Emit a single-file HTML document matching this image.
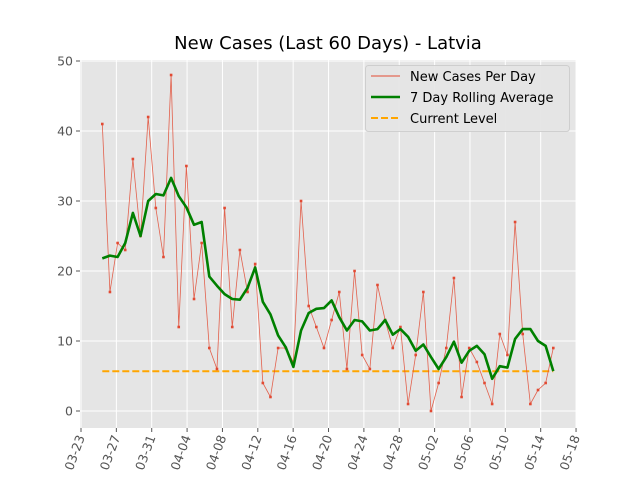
<!DOCTYPE html>
<html><head><meta charset="utf-8"><style>
body{margin:0;background:#fff;}
svg{display:block;font-family:"DejaVu Sans","Liberation Sans",sans-serif;}
</style></head><body>
<svg id="chart" width="640" height="480"></svg>
<script>
const dayValues=[41,17,24,23,36,25,42,29,22,48,12,35,16,24,9,6,29,12,23,17,21,4,2,9,9,7,30,15,12,9,13,17,6,20,8,6,18,13,9,12,1,8,17,0,4,9,19,2,9,7,4,1,11,8,27,11,1,3,4,9];
const rollingAvg=[21.8,22.2,22.0,24.0,28.3,25.0,30.0,31.0,30.8,33.3,30.7,29.1,26.6,27.0,19.2,17.9,16.7,16.0,15.9,17.6,20.5,15.6,13.8,10.8,9.1,6.3,11.5,14.0,14.6,14.7,15.8,13.4,11.5,13.0,12.8,11.5,11.7,13.0,10.9,11.7,10.6,8.6,9.5,7.7,6.0,7.7,9.9,6.9,8.6,9.3,8.1,4.6,6.4,6.2,10.3,11.7,11.7,10.0,9.3,5.7];
const currentLevel=[5.67];
const yTicks=[0,10,20,30,40,50];
const xTickLabels=["03-23","03-27","03-31","04-04","04-08","04-12","04-16","04-20","04-24","04-28","05-02","05-06","05-10","05-14","05-18"];
const NS="http://www.w3.org/2000/svg";
const svg=document.getElementById('chart');
function mk(tag,attrs,parent){const e=document.createElementNS(NS,tag);for(const k in attrs)e.setAttribute(k,attrs[k]);(parent||svg).appendChild(e);return e;}
const L=80,R=576,T=60,B=428;
const yS=v=>411-v*7;
const xS=i=>102.3+i*(553.3-102.3)/(dayValues.length-1);
const xT=k=>81+k*35.36;
let bg=mk('rect',{x:L,y:T,width:R-L,height:B-T,fill:'#e5e5e5'});


yTicks.forEach(v=>{
  let g=mk('line',{x1:L,x2:R,y1:yS(v),y2:yS(v),stroke:'#fff','stroke-width':1});
  
  
  mk('line',{x1:L-4,x2:L,y1:yS(v),y2:yS(v),stroke:'#555'});
  let t=mk('text',{x:L-7,y:yS(v)+4.5,'text-anchor':'end','font-size':12.5,fill:'#555'});
  t.textContent=v;
  
  
});
xTickLabels.forEach((lab,k)=>{
  const x=xT(k);
  let g=mk('line',{x1:x,x2:x,y1:T,y2:B,stroke:'#fff','stroke-width':1});
  
  
  mk('line',{x1:x,x2:x,y1:B,y2:B+4,stroke:'#555'});
  let t=mk('text',{x:x+4,y:B+9,'text-anchor':'end','font-size':12.5,fill:'#555',transform:`rotate(-70 ${x+4} ${B+9})`});
  t.textContent=lab;
  
  
});
// current level
let cl=mk('line',{x1:xS(0),x2:xS(dayValues.length-1),y1:yS(currentLevel[0]),y2:yS(currentLevel[0]),stroke:'#FFA500','stroke-width':2,'stroke-dasharray':'7,3'});


// daily
let pts=dayValues.map((v,i)=>xS(i)+','+yS(v)).join(' ');
let dl=mk('polyline',{points:pts,fill:'none',stroke:'#E24A33','stroke-width':0.8,opacity:0.85});


dayValues.forEach((v,i)=>{
  let c=mk('rect',{x:xS(i)-1.3,y:yS(v)-1.3,width:2.6,height:2.6,fill:'#E24A33'});
  
  
});
let ra=mk('polyline',{points:rollingAvg.map((v,i)=>xS(i)+','+yS(v)).join(' '),fill:'none',stroke:'#008000','stroke-width':2.6,'stroke-linejoin':'round'});


// title
let ti=mk('text',{x:328,y:49,'text-anchor':'middle','font-size':18,fill:'#000'});
ti.textContent='New Cases (Last 60 Days) - Latvia';


// legend
let lg=mk('g',{});


mk('rect',{x:365.5,y:65.5,width:204,height:66,rx:3,fill:'#e5e5e5',stroke:'#ccc','stroke-width':1,opacity:0.9},lg);
const legItems=[['New Cases Per Day','#E24A33',0.9,''],['7 Day Rolling Average','#008000',2.6,''],['Current Level','#FFA500',2,'7,3']];
legItems.forEach((it,j)=>{
  const y=76+j*21;
  let e=mk('g',{},lg);
  
  
  mk('line',{x1:371,x2:400,y1:y,y2:y,stroke:it[1],'stroke-width':it[2],'stroke-dasharray':it[3]},e);
  let t=mk('text',{x:410,y:y+5,'font-size':13,fill:'#000'},e);
  t.textContent=it[0];
});
</script>
</body></html>
